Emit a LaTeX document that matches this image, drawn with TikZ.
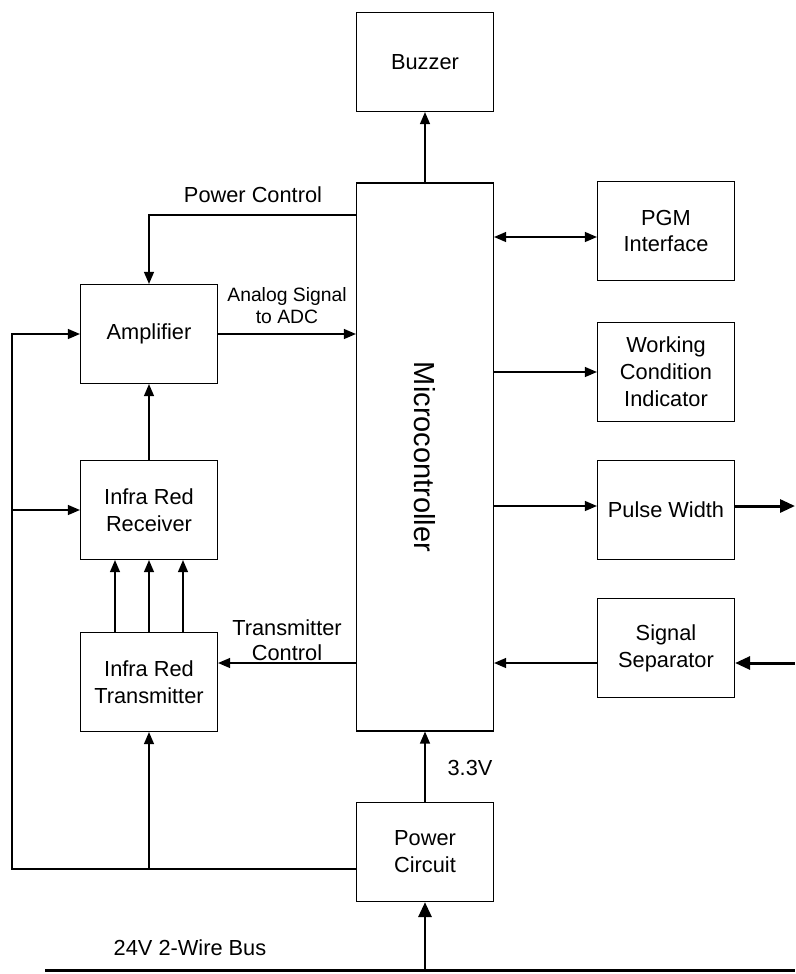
\documentclass[tikz,border=0pt]{standalone}
\usepackage{fontspec}
\setmainfont{Liberation Sans}
\usetikzlibrary{arrows.meta}
\begin{document}
\begin{tikzpicture}
[x=0.02cm, y=-0.02cm, line width=0.7pt,
 >={Triangle[length=2.4mm,width=2mm]},
 block/.style={draw, minimum width=2.74cm, minimum height=1.98cm, align=center,
   font=\fontsize{12.4}{15.3}\selectfont},
 lbl/.style={align=center, font=\fontsize{12.4}{14.2}\selectfont},
 bus/.style={line width=1.7pt, >={Triangle[length=3mm,width=2.6mm]}}]
\useasboundingbox (0,0) rectangle (795,974);

\node[block] (bz) at (425,62) {Buzzer};
\node[block, minimum height=10.96cm] (mc) at (425,457) {};
\node[rotate=-90, font=\fontsize{16.5}{18}\selectfont] (mctxt) at (mc) {Microcontroller};
\node[block] (pgm) at (666,231) {PGM\\Interface};
\node[block] (wci) at (666,372) {Working\\Condition\\Indicator};
\node[block] (pw) at (666,510) {Pulse Width};
\node[block] (ss) at (666,648) {Signal\\Separator};
\node[block] (amp) at (149,334) {Amplifier};
\node[block] (rx) at (149,510) {Infra Red\\Receiver};
\node[block] (tx) at (149,682) {Infra Red\\Transmitter};
\node[block] (pc) at (425,852) {Power\\Circuit};

% labels
\node[lbl] (pctl) at (253,195) {Power Control};
\node[align=center, font=\fontsize{11}{12.5}\selectfont] (adc) at (287,306) {Analog Signal\\to ADC};
\node[lbl] (tctl) at (287,640) {Transmitter\\Control};
\node[lbl] (v33) at (470,768) {3.3V};
\node[lbl] (buslbl) at (190,948) {24V 2-Wire Bus};

\coordinate (lb) at (12,869);
\coordinate (busL) at (45,970);
\coordinate (busR) at (795,970);
\coordinate (pwOut) at (795,506);
\coordinate (ssIn) at (795,663);

% microcontroller links
\draw[->] (mc) -- (bz);
\draw[->] (mc.west |- 0,215) -| (amp);
\draw[->] (amp) -- (amp -| mc.west);
\draw[->] (mc.west |- 0,663) -- (tx.east |- 0,663);
\draw[<->] (mc.east |- 0,237) -- (pgm.west |- 0,237);
\draw[->] (mc.east |- wci) -- (wci);
\draw[->] (mc.east |- 0,506) -- (pw.west |- 0,506);
\draw[->] (ss.west |- ssIn) -- (mc.east |- ssIn);
\draw[->] (pc) -- (mc);

% left side
\draw[->] (rx) -- (amp);
\foreach \dx in {-34,0,34}
  \draw[->] ([xshift=\dx*0.02cm]tx.north) -- ([xshift=\dx*0.02cm]rx.south);
\draw[->] (pc.west |- lb) -- (lb) |- (amp);
\draw[->] (lb |- rx) -- (rx);
\draw[->] (tx.south |- lb) -- (tx);

% bus and outputs
\draw[bus] (busL) -- (busR);
\draw[bus, ->] (pc.south |- busL) -- (pc);
\draw[bus, ->] (pw.east |- pwOut) -- (pwOut);
\draw[bus, ->] (ssIn) -- (ss.east |- ssIn);
\end{tikzpicture}
\end{document}
